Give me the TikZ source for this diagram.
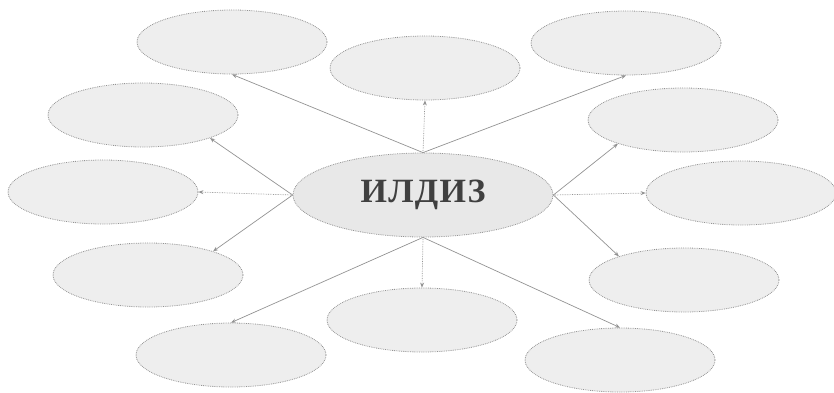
\documentclass[tikz,border=0pt]{standalone}
\usepackage{fontspec}
\setmainfont{Liberation Serif}
\usetikzlibrary{shapes.geometric,arrows.meta}
\begin{document}
\begin{tikzpicture}[x=1pt, y=-1pt,
		bubble/.style={ellipse, draw=gray!85, line width=0.8pt, densely dotted, fill=gray!13,
			minimum width=190pt, minimum height=64pt, inner sep=0pt},
		spoke/.style={draw=gray!85, line width=0.7pt, -{Stealth[length=5pt,width=4pt]}}]
	\useasboundingbox (0,0) rectangle (834,392);
	% 1. Markaziy ellips
	\node[bubble, fill=gray!18, minimum width=260pt, minimum height=84pt,
		font=\bfseries\fontsize{34}{34}\selectfont\addfontfeature{LetterSpace=4}, text=black!75] (root) at (423,195) {ИЛДИЗ};
	% 2. Atrofdagi bo'sh ellipslar
	\foreach \n/\x/\y in {a/232/42, b/425/68, c/626/43, d/143/115, e/103/192, f/148/275,
		g/231/355, h/422/320, i/620/360, j/684/280, k/741/193, l/683/120} {
		\node[bubble] (\n) at (\x,\y) {};
	}
	% 3. Strelkalar
	\foreach \s/\t/\st in {north/a.south/solid, north/b.south/densely dotted, north/c.south/solid,
		west/d.-19/solid, west/e.east/densely dotted, west/f.20/solid,
		east/l.200/solid, east/k.west/densely dotted, east/j.160/solid,
		south/g.north/solid, south/h.north/densely dotted, south/i.north/solid} {
		\draw[spoke, \st] (root.\s) -- (\t);
	}
\end{tikzpicture}
\end{document}
